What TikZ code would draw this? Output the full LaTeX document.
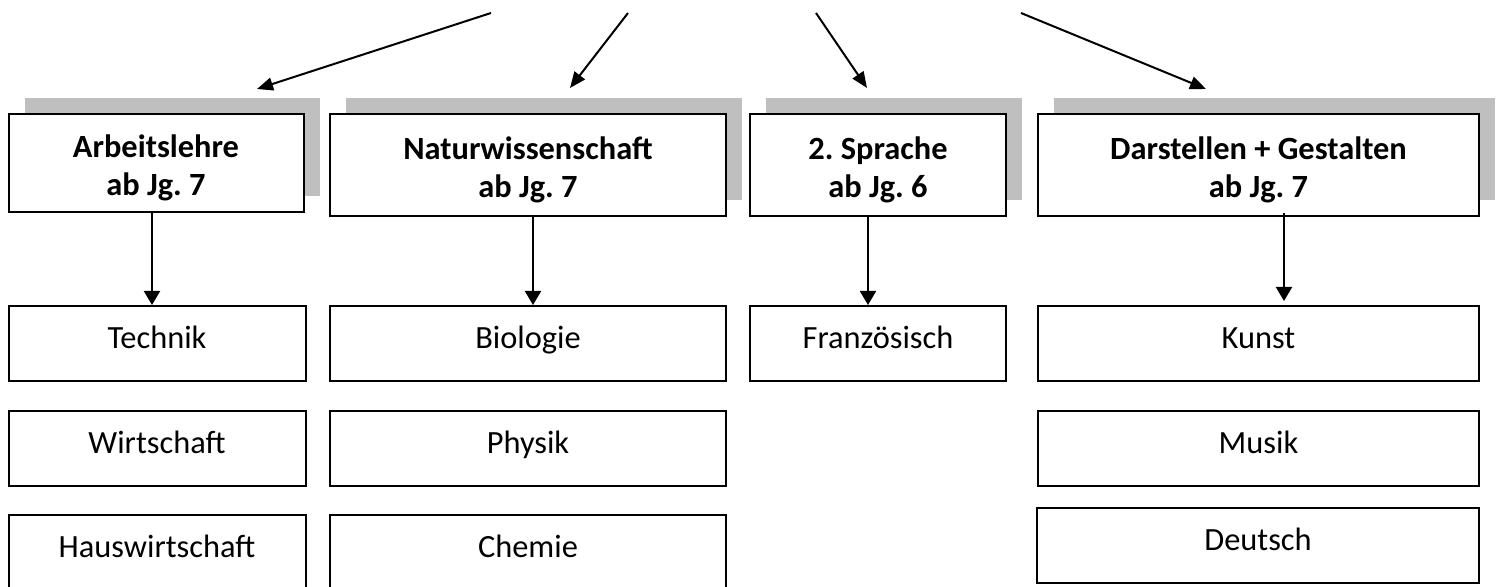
\documentclass[tikz,border=0pt]{standalone}
\usepackage{fontspec}
\setmainfont{Carlito}
\usetikzlibrary{arrows.meta}
\usetikzlibrary{shadows}
\definecolor{schatten}{RGB}{191,191,191}
\newcommand{\kstrut}{\rule{0pt}{16pt}}
\frenchspacing

\begin{document}
\begin{tikzpicture}[x=0.5pt,y=-0.5pt,
	kopf/.style={draw,line width=1pt,fill=white,inner sep=0pt,align=center,font=\fontsize{16.2}{18.75}\selectfont\bfseries,general shadow={fill=schatten,shadow xshift=8pt,shadow yshift=8pt}},
	fach/.style={draw,line width=1pt,fill=white,inner sep=0pt,minimum height=37.5pt,text height=12pt,text depth=7.3pt,font=\fontsize{16.2}{19}\selectfont},
	pfeil/.style={line width=1pt,-{Triangle[length=7pt,width=8pt]}},
	zeiger/.style={line width=1pt,-{Triangle[length=8pt,width=6.5pt]}}]
\useasboundingbox (0,0) rectangle (1496,587);
\node[kopf,minimum width=147.5pt,minimum height=49pt] (arb) at (156,163) {\kstrut Arbeitslehre\\ab Jg. 7};
\node[kopf,minimum width=198pt,minimum height=51pt] (nat) at (528,165) {\kstrut Naturwissenschaft\\ab Jg. 7};
\node[kopf,minimum width=128pt,minimum height=51pt] (spr) at (878,165) {\kstrut 2. Sprache\\ab Jg. 6};
\node[kopf,minimum width=220.5pt,minimum height=51pt] (dar) at (1258.5,165) {\kstrut Darstellen + Gestalten\\ab Jg. 7};
\node[fach,minimum width=148.5pt] (tech) at (157,343.5) {Technik};
\node[fach,minimum width=148.5pt] (wirt) at (157,449) {Wirtschaft};
\node[fach,minimum width=148.5pt] (haus) at (157,552.5) {Hauswirtschaft};
\node[fach,minimum width=198pt] (bio) at (528,343.5) {Biologie};
\node[fach,minimum width=198pt] (phys) at (528,449) {Physik};
\node[fach,minimum width=198pt] (chem) at (528,552.5) {Chemie};
\node[fach,minimum width=128pt] (franz) at (878,343.5) {Französisch};
\node[fach,minimum width=220.5pt] (kunst) at (1258.5,343.5) {Kunst};
\node[fach,minimum width=220.5pt] (musik) at (1258.5,449) {Musik};
\node[fach,minimum width=221pt] (deu) at (1258,546) {Deutsch};
\coordinate (s1) at (491,13);
\coordinate (e1) at (257,89);
\coordinate (s2) at (628,13);
\coordinate (e2) at (570,88);
\coordinate (s3) at (816,13);
\coordinate (e3) at (867,88);
\coordinate (s4) at (1021,13);
\coordinate (e4) at (1206,89);
\draw[zeiger] (s1) -- (e1);
\draw[zeiger] (s2) -- (e2);
\draw[zeiger] (s3) -- (e3);
\draw[zeiger] (s4) -- (e4);
\draw[pfeil] ([shift={(-4,0)}]arb.south) -- ([shift={(-5,0)}]tech.north);
\draw[pfeil] ([shift={(5,0)}]nat.south) -- ([shift={(5,0)}]bio.north);
\draw[pfeil] ([shift={(-10,0)}]spr.south) -- ([shift={(-10,0)}]franz.north);
\draw[pfeil] ([shift={(25.5,-4)}]dar.south) -- ([shift={(25.5,-4)}]kunst.north);
\end{tikzpicture}
\end{document}
